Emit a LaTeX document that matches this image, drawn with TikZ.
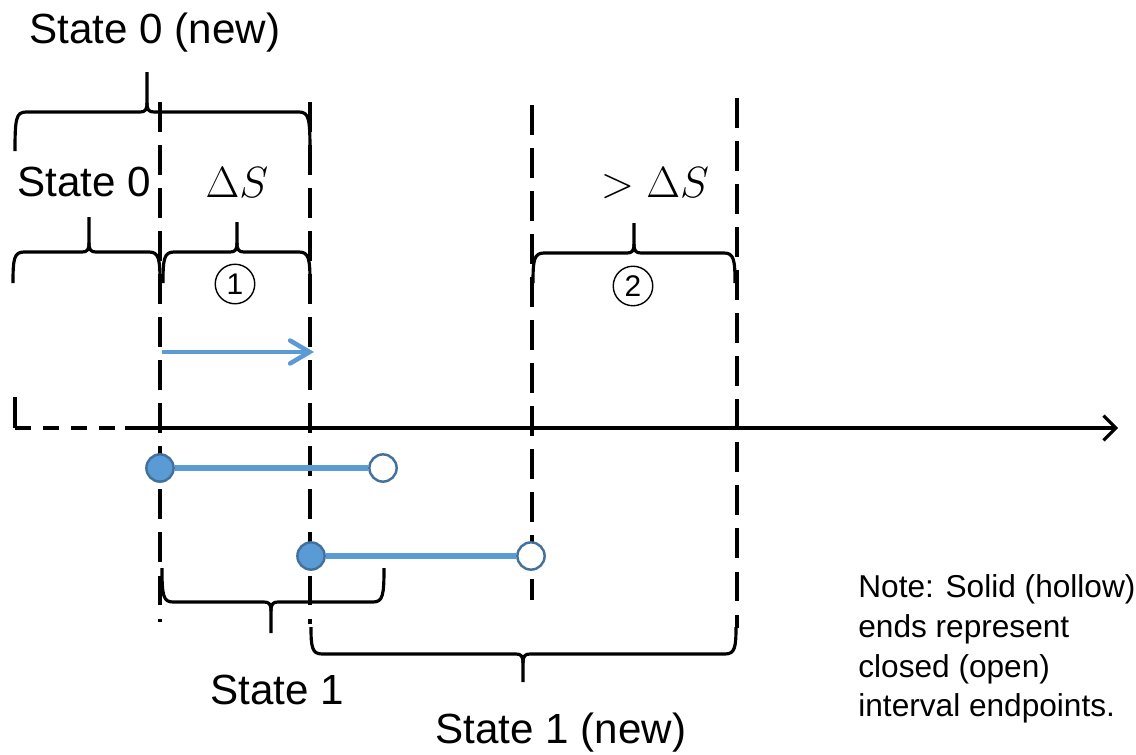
\documentclass[tikz,border=0pt]{standalone}
\usepackage{fontspec}
\setmainfont{Liberation Sans}
\usetikzlibrary{arrows.meta}
\definecolor{fillblue}{HTML}{5B9BD5}
\definecolor{edgeblue}{HTML}{41719C}

% curly brace: left x, right x, bar y, end y, tip x, tip y, direction (1 = tip up, -1 = tip down)
\newcommand\curlybrace[7]{%
  \draw[bracestroke] (#1,#4) .. controls (#1,{#3+7*#7}) and ({#1+1},#3) .. ({#1+11},#3)
    -- ({#5-7},#3) .. controls ({#5-2},#3) and (#5,{#3-2*#7}) .. (#5,{#3-9*#7}) -- (#5,#6);
  \draw[bracestroke] (#5,{#3-9*#7}) .. controls (#5,{#3-2*#7}) and ({#5+2},#3) .. ({#5+7},#3)
    -- ({#2-11},#3) .. controls ({#2-1},#3) and (#2,{#3+7*#7}) .. (#2,#4);
}

\tikzset{
  bracestroke/.style={line width=1.8pt, line join=round},
  guide/.style={line width=2pt, dash pattern=on 17pt off 7.5pt},
  axisline/.style={line width=1.8pt},
  bigtext/.style={font=\fontsize{24}{28}\selectfont, inner sep=0pt},
  numtext/.style={circle, draw, line width=0.8pt, minimum size=22.5pt, inner sep=0pt,
                  font=\fontsize{17}{20}\selectfont},
  notetext/.style={font=\fontsize{18}{22.7}\selectfont, align=left, inner sep=0pt, anchor=north west},
  interval/.style={line width=3.2pt, fillblue},
  closedend/.style={circle, minimum size=15.5pt, inner sep=0pt, fill=fillblue, draw=edgeblue, line width=1.4pt},
  openend/.style={circle, minimum size=15.5pt, inner sep=0pt, fill=white, draw=edgeblue, line width=1.4pt},
  shiftarrow/.style={line width=2.4pt, fillblue,
                     -{Straight Barb[length=11pt, width=13pt, line width=2.6pt, line cap=round]}},
}

\begin{document}
\begin{tikzpicture}[x=0.02cm, y=-0.02cm]
\useasboundingbox (0,0) rectangle (1136,754);

% vertical guides
\coordinate (g1t) at (160,102); \coordinate (g1b) at (160,622);
\coordinate (g2t) at (310,102); \coordinate (g2b) at (310,624);
\coordinate (g3t) at (532,105); \coordinate (g3b) at (532,600);
\coordinate (g4t) at (737,98);  \coordinate (g4b) at (737,628);
\draw[guide] (g1t) -- (g1b);
\draw[guide] (g2t) -- (g2b);
\draw[guide] (g3t) -- (g3b);
\draw[guide] (g4t) -- (g4b);

% time axis: dashed lead-in, then solid with arrow
\coordinate (ax0) at (15,397);
\coordinate (ax1) at (15,428);
\coordinate (ax2) at (125,428);
\coordinate (ax3) at (1118,428);
\draw[axisline] (ax0) -- (ax1);
\draw[axisline, dash pattern=on 9pt off 7pt] (ax1) -- (ax2);
\draw[axisline, -{Straight Barb[length=7pt, width=14pt, line width=1.8pt]}] (ax2) -- (ax3);

% shift arrow
\coordinate (sh0) at (162,352);
\coordinate (sh1) at (314,352);
\draw[shiftarrow] (sh0) -- (sh1);

% intervals
\node[closedend] (a1) at (160,468) {};
\node[openend]   (a2) at (383,468) {};
\draw[interval] (a1) -- (a2);
\node[closedend] (b1) at (311,556) {};
\node[openend]   (b2) at (531,556) {};
\draw[interval] (b1) -- (b2);

% braces
\curlybrace{15}{310}{112}{151}{147}{72}{1}
\curlybrace{13}{160}{252}{283}{89}{217}{1}
\curlybrace{163}{310}{252}{283}{237}{222}{1}
\curlybrace{533}{735}{253}{283}{634}{223}{1}
\curlybrace{162}{384}{602}{568}{271}{633}{-1}
\curlybrace{311}{736}{654}{627}{523}{682}{-1}

% labels
\node[bigtext] (lbl0new) at (155,33) {State 0 (new)};
\node[bigtext] (lbl0) at (84,182) {State 0};
\node[bigtext] (lblds) at (237,183) {$\Delta S$};
\node[bigtext] (lblgt) at (655,183) {$>\Delta S$};
\node[numtext] (n1) at (235,284) {1};
\node[numtext] (n2) at (633,286) {2};
\node[bigtext] (lbl1) at (277,690) {State 1};
\node[bigtext] (lbl1new) at (561,733) {State 1 (new)};
\node[notetext] (note) at (858,574) {Note: Solid (hollow)\\ends represent\\closed (open)\\interval endpoints.};
\end{tikzpicture}
\end{document}
